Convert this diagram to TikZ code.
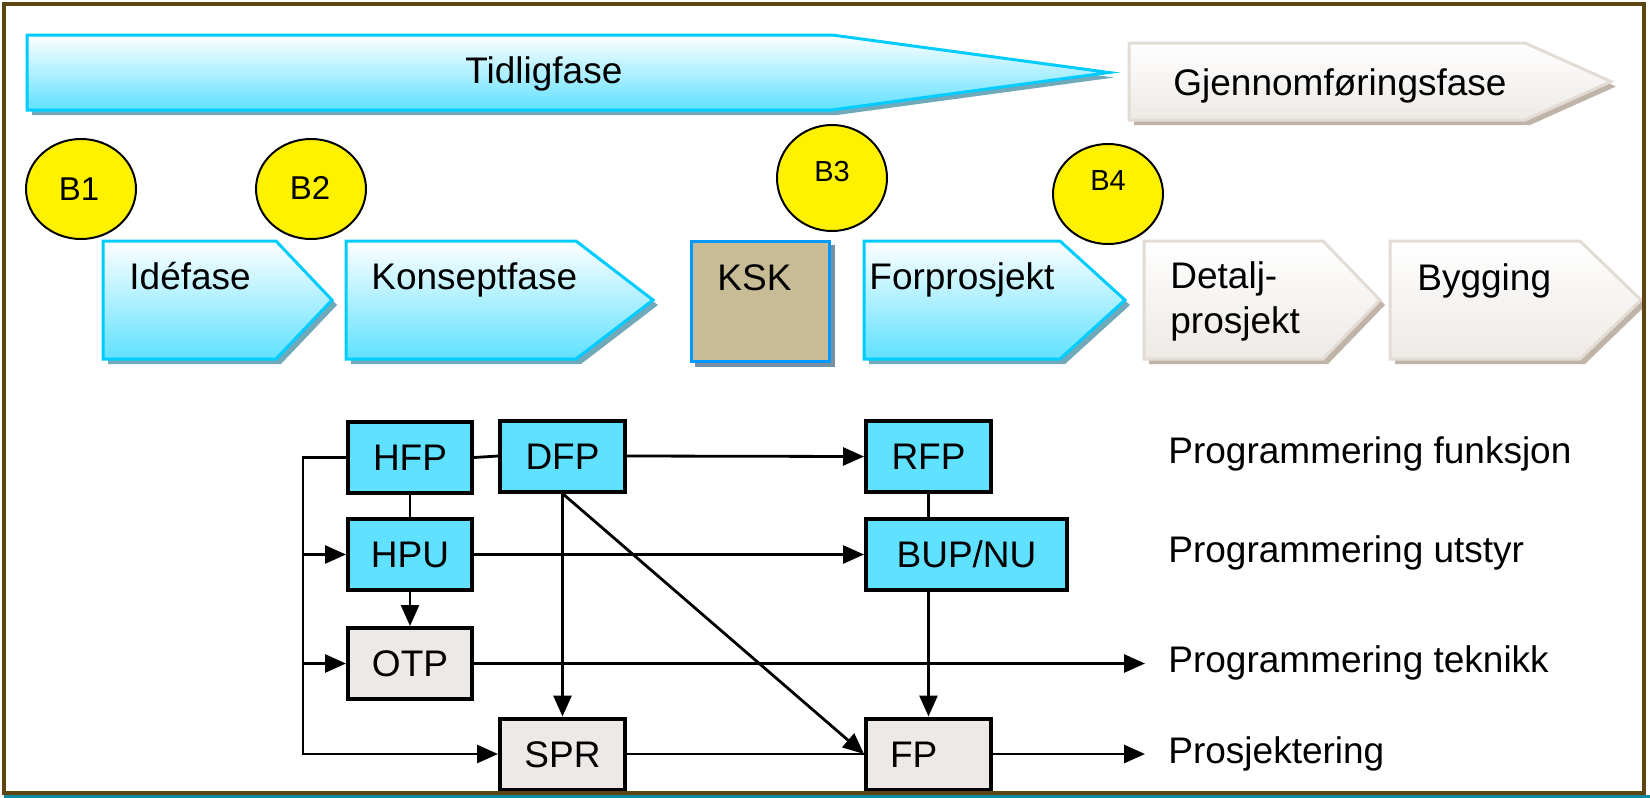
\documentclass[tikz,border=0pt]{standalone}
\usepackage{fontspec}
\setmainfont{Liberation Sans}
\usetikzlibrary{arrows.meta,shapes.geometric}
\definecolor{cyanfill}{HTML}{5FE1FF}
\definecolor{cyanborder}{HTML}{00CCFF}
\definecolor{cyanshadow}{HTML}{6FA9BA}
\definecolor{grayfill}{HTML}{EDE9E5}
\definecolor{grayborder}{HTML}{E3DCD5}
\definecolor{grayshadow}{HTML}{C0B4A8}
\definecolor{kskfill}{HTML}{C8BC96}
\definecolor{kskborder}{HTML}{0099FF}
\definecolor{kskshadow}{HTML}{7890A0}
\definecolor{framecol}{HTML}{5E4514}
\definecolor{tealcol}{HTML}{108A9C}
\definecolor{boxgray}{HTML}{ECE9E6}
\newcommand{\mainfs}{\fontsize{18.5pt}{20.5pt}\selectfont}
\newcommand{\phasearrow}[7]{%
  \fill[#7,xshift=2.5pt,yshift=-2.5pt] (#1,#2) -- (#3,#2) -- (#4,{(#2+#5)/2}) -- (#3,#5) -- (#1,#5) -- cycle;
  \draw[#6] (#1,#2) -- (#3,#2) -- (#4,{(#2+#5)/2}) -- (#3,#5) -- (#1,#5) -- cycle;}
\begin{document}
\begin{tikzpicture}[x=0.5pt,y=-0.5pt,
  cyanph/.style={draw=cyanborder,line width=1.5pt,top color=white,bottom color=cyanfill},
  grayph/.style={draw=grayborder,line width=1.5pt,top color=white,bottom color=grayfill},
  ph/.style={font=\mainfs,inner sep=0pt,anchor=base west},
  box/.style={draw=black,line width=2pt,minimum width=62pt,minimum height=35.5pt,inner sep=0pt,
    font=\mainfs,text height=13.2pt,text depth=0pt},
  bluebox/.style={box,fill=cyanfill},
  graybox/.style={box,fill=boxgray},
  conn/.style={line width=1.4pt,black},
  arr/.style={conn,-{Triangle[length=10.5pt,width=9pt]}},
  lab/.style={font=\mainfs,inner xsep=11.5pt,inner ysep=0pt,anchor=base west},
  bell/.style={ellipse,draw=black,line width=1pt,fill=yellow,minimum width=55pt,minimum height=50pt,inner sep=0pt},
  btxt/.style={inner sep=0pt,font=\fontsize{16.5pt}{18pt}\selectfont},
  btxts/.style={inner sep=0pt,font=\fontsize{14.5pt}{16pt}\selectfont}
]
\useasboundingbox (0,0) rectangle (1650,798);
\fill[white] (0,0) rectangle (1650,798);
% top phase arrows
\phasearrow{27}{35}{832}{1109}{110}{cyanph}{cyanshadow}
\node[ph] (tidlig) at (465,83) {Tidligfase};
\phasearrow{1129}{43}{1525}{1611}{120}{grayph}{grayshadow}
\node[ph] (gjen) at (1173,95) {Gjennomføringsfase};
% milestones
\node[bell] (b1) at (81,189) {};
\node[btxt] (b1t) at (79,189) {B1};
\node[bell] (b2) at (311,189) {};
\node[btxt] (b2t) at (310,188) {B2};
\node[bell,minimum height=53pt] (b3) at (832,178) {};
\node[btxts] (b3t) at (832,172) {B3};
\node[bell] (b4) at (1108,194) {};
\node[btxts] (b4t) at (1108,181) {B4};
% phases row
\phasearrow{103}{241}{276}{332}{359}{cyanph}{cyanshadow}
\node[ph] (ide) at (129,289) {Idéfase};
\phasearrow{346}{241}{576}{653}{359}{cyanph}{cyanshadow}
\node[ph] (kons) at (371,289) {Konseptfase};
\fill[kskshadow,xshift=2.5pt,yshift=-2.5pt] (690,240) rectangle (830,362);
\draw[kskborder,fill=kskfill,line width=1.5pt] (691,241) rectangle (829,361);
\node[ph] (ksk) at (717,290) {KSK};
\phasearrow{864}{241}{1060}{1125}{359}{cyanph}{cyanshadow}
\node[ph] (forp) at (869,289) {Forprosjekt};
\phasearrow{1144}{241}{1323}{1380}{359}{grayph}{grayshadow}
\node[ph] (det1) at (1170,288) {Detalj-};
\node[ph] (det2) at (1170,333) {prosjekt};
\phasearrow{1390}{241}{1580}{1641}{359}{grayph}{grayshadow}
\node[ph] (byg) at (1417,290) {Bygging};
% flow chart
\node[bluebox] (HFP) at (410,457.5) {HFP};
\node[bluebox,minimum width=62.5pt] (DFP) at (562.5,456) {DFP};
\node[bluebox,minimum width=62.5pt] (RFP) at (928.5,456.5) {RFP};
\node[bluebox] (HPU) at (410,554.5) {HPU};
\node[bluebox,minimum width=100.5pt] (BUP) at (966.5,554.5) {BUP/NU};
\node[graybox] (OTP) at (410,663.5) {OTP};
\node[graybox,minimum width=62.5pt] (SPR) at (562.5,754) {SPR};
\node[graybox,inner xsep=12pt,text width=38.5pt,align=left] (FP) at (928.5,754) {FP};
\node[lab] (lfunk) at (1145,463) {Programmering funksjon};
\node[lab] (lutst) at (1145,562) {Programmering utstyr};
\node[lab] (ltek) at (1145,672) {Programmering teknikk};
\node[lab] (lpro) at (1145,763) {Prosjektering};
\coordinate (bus) at (303,457.5);
\draw[arr] (HFP.west) -- (bus) -- (bus |- SPR.west) -- (SPR.west);
\draw[arr] (bus |- HPU.west) -- (HPU.west);
\draw[arr] (bus |- OTP.west) -- (OTP.west);
\draw[conn] (HFP.east) -- (DFP.west);
\draw[conn] (HFP.south) -- (HPU.north);
\draw[arr] (HPU.south) -- (OTP.north);
\draw[arr] (DFP.east) -- (RFP.west);
\draw[arr] (DFP.south) -- (SPR.north);
\draw[arr] (DFP.south) -- (FP.west);
\draw[arr] (HPU.east) -- (BUP.west);
\draw[conn] (RFP.south) -- (RFP.south |- BUP.north);
\draw[arr] (FP.north |- BUP.south) -- (FP.north);
\draw[conn] (SPR.east) -- (FP.west);
\draw[arr] (OTP.east) -- (OTP.east -| ltek.west);
\draw[arr] (FP.east) -- (FP.east -| lpro.west);
% frame
\draw[framecol,line width=2pt] (4,4) rectangle (1644,793);
\draw[tealcol,line width=1.6pt] (4,796.6) -- (1650,796.6);
\end{tikzpicture}
\end{document}
